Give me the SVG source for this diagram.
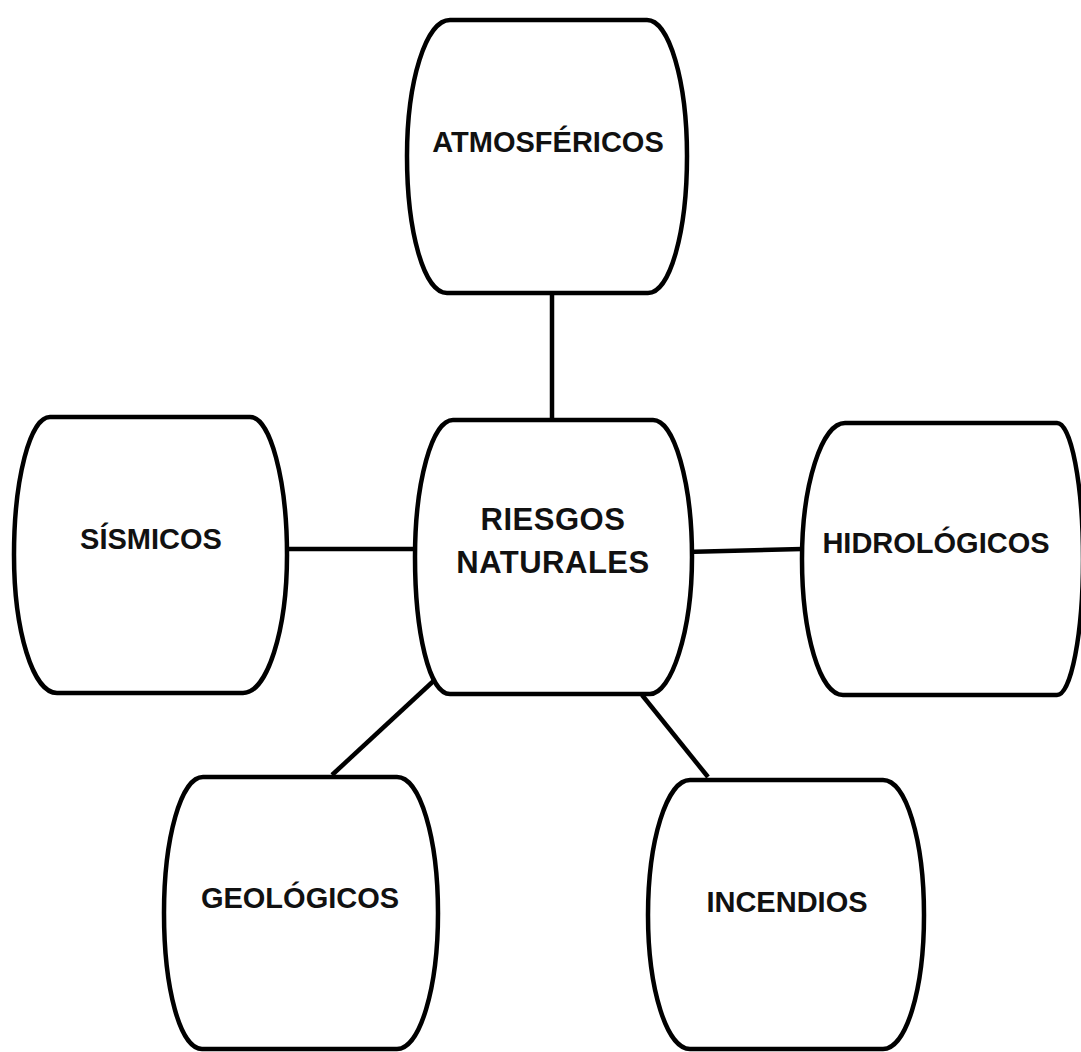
<svg xmlns="http://www.w3.org/2000/svg" width="1081" height="1052" viewBox="0 0 1081 1052">
<style>
.box{fill:#fff;stroke:#000;stroke-width:4.5;stroke-linejoin:round}
.lbl{font-family:"Liberation Sans",Arial,sans-serif;font-weight:bold;font-size:29px;fill:#111;text-anchor:middle}
.ctr{font-size:31px;letter-spacing:0.5px}
.con line{stroke:#000;stroke-width:4.5}
</style>
<rect width="1081" height="1052" fill="#fff"/>
<g id="connectors" class="con">
<line x1="552" y1="293" x2="552" y2="420"/>
<line x1="287" y1="549" x2="415" y2="549"/>
<line x1="685" y1="552" x2="802" y2="549"/>
<line x1="440" y1="675" x2="332" y2="775"/>
<line x1="642" y1="695" x2="708" y2="777"/>
</g>
<g id="atmosfericos">
<path class="box" d="M450,20 L647,20 C669,20 687,81 687,156 C687,232 670,293 648,293 L447,293 C424,293 407,232 407,156 C407,81 426,20 450,20 Z"/>
<text class="lbl" x="548" y="152">ATMOSFÉRICOS</text>
</g>
<g id="riesgos">
<path class="box" d="M453,420 L653,420 C674,420 692,482 692,557 C692,632 671,694 650,694 L450,694 C429,694 415,632 415,557 C415,482 432,420 453,420 Z"/>
<text class="lbl ctr" x="553" y="530">RIESGOS</text>
<text class="lbl ctr" x="553" y="573">NATURALES</text>
</g>
<g id="sismicos">
<path class="box" d="M50,417 L250,417 C270,417 287,479 287,555 C287,631 267,693 243,693 L57,693 C33,693 14,631 14,555 C14,479 30,417 50,417 Z"/>
<text class="lbl" x="151" y="549">SÍSMICOS</text>
</g>
<g id="hidrologicos">
<path class="box" d="M845,423 L1057,423 C1071,423 1083,484 1083,559 C1083,634 1071,695 1057,695 L843,695 C820,695 802,634 802,559 C802,484 822,423 845,423 Z"/>
<text class="lbl" x="936" y="553">HIDROLÓGICOS</text>
</g>
<g id="geologicos">
<path class="box" d="M203,777 L397,777 C420,777 438,838 438,913 C438,988 420,1049 397,1049 L202,1049 C180,1049 164,988 164,913 C164,838 181,777 203,777 Z"/>
<text class="lbl" x="300" y="908">GEOLÓGICOS</text>
</g>
<g id="incendios">
<path class="box" d="M690,780 L883,780 C906,780 924,840 924,915 C924,990 906,1049 883,1049 L690,1049 C667,1049 648,990 648,915 C648,840 667,780 690,780 Z"/>
<text class="lbl" x="787" y="912">INCENDIOS</text>
</g>
</svg>
